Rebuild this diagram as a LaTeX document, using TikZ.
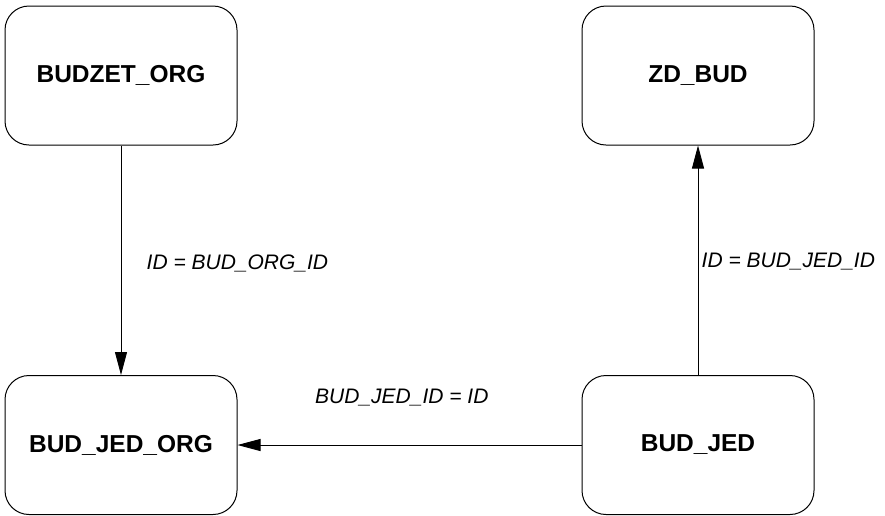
\documentclass[tikz,border=0pt]{standalone}
\usepackage{fontspec}
\setmainfont{Liberation Sans}
\usetikzlibrary{arrows.meta}
\tikzset{
  entity/.style={draw=black, line width=1pt, rounded corners=24pt, minimum width=232pt, minimum height=139pt, inner sep=0pt, font=\fontsize{24.5}{28}\selectfont\bfseries},
  rel/.style={draw=black, line width=0.9pt, -{Triangle[length=23pt, width=12pt]}},
  lbl/.style={anchor=west, inner sep=0pt, font=\fontsize{21}{24}\selectfont\itshape}
}
\begin{document}
\begin{tikzpicture}[x=1pt, y=-1pt]
\useasboundingbox (0,0) rectangle (885,515);
\node[entity] (budzet) at (121,75.5) {BUDZET\_ORG};
\node[entity] (zdbud) at (698,75.5) {ZD\_BUD};
\node[entity] (budjedorg) at (121,445) {BUD\_JED\_ORG};
\node[entity] (budjed) at (698,445) {BUD\_JED};
\draw[rel] (budzet.south) -- (budjedorg.north);
\draw[rel] (budjed.north) -- (zdbud.south);
\draw[rel] (budjed.west) -- (budjedorg.east);
\node[lbl] (l1) at (146.5,263) {ID = BUD\_ORG\_ID};
\node[lbl] (l2) at (701.5,262) {ID = BUD\_JED\_ID};
\node[lbl] (l3) at (315,398) {BUD\_JED\_ID = ID};
\end{tikzpicture}
\end{document}
